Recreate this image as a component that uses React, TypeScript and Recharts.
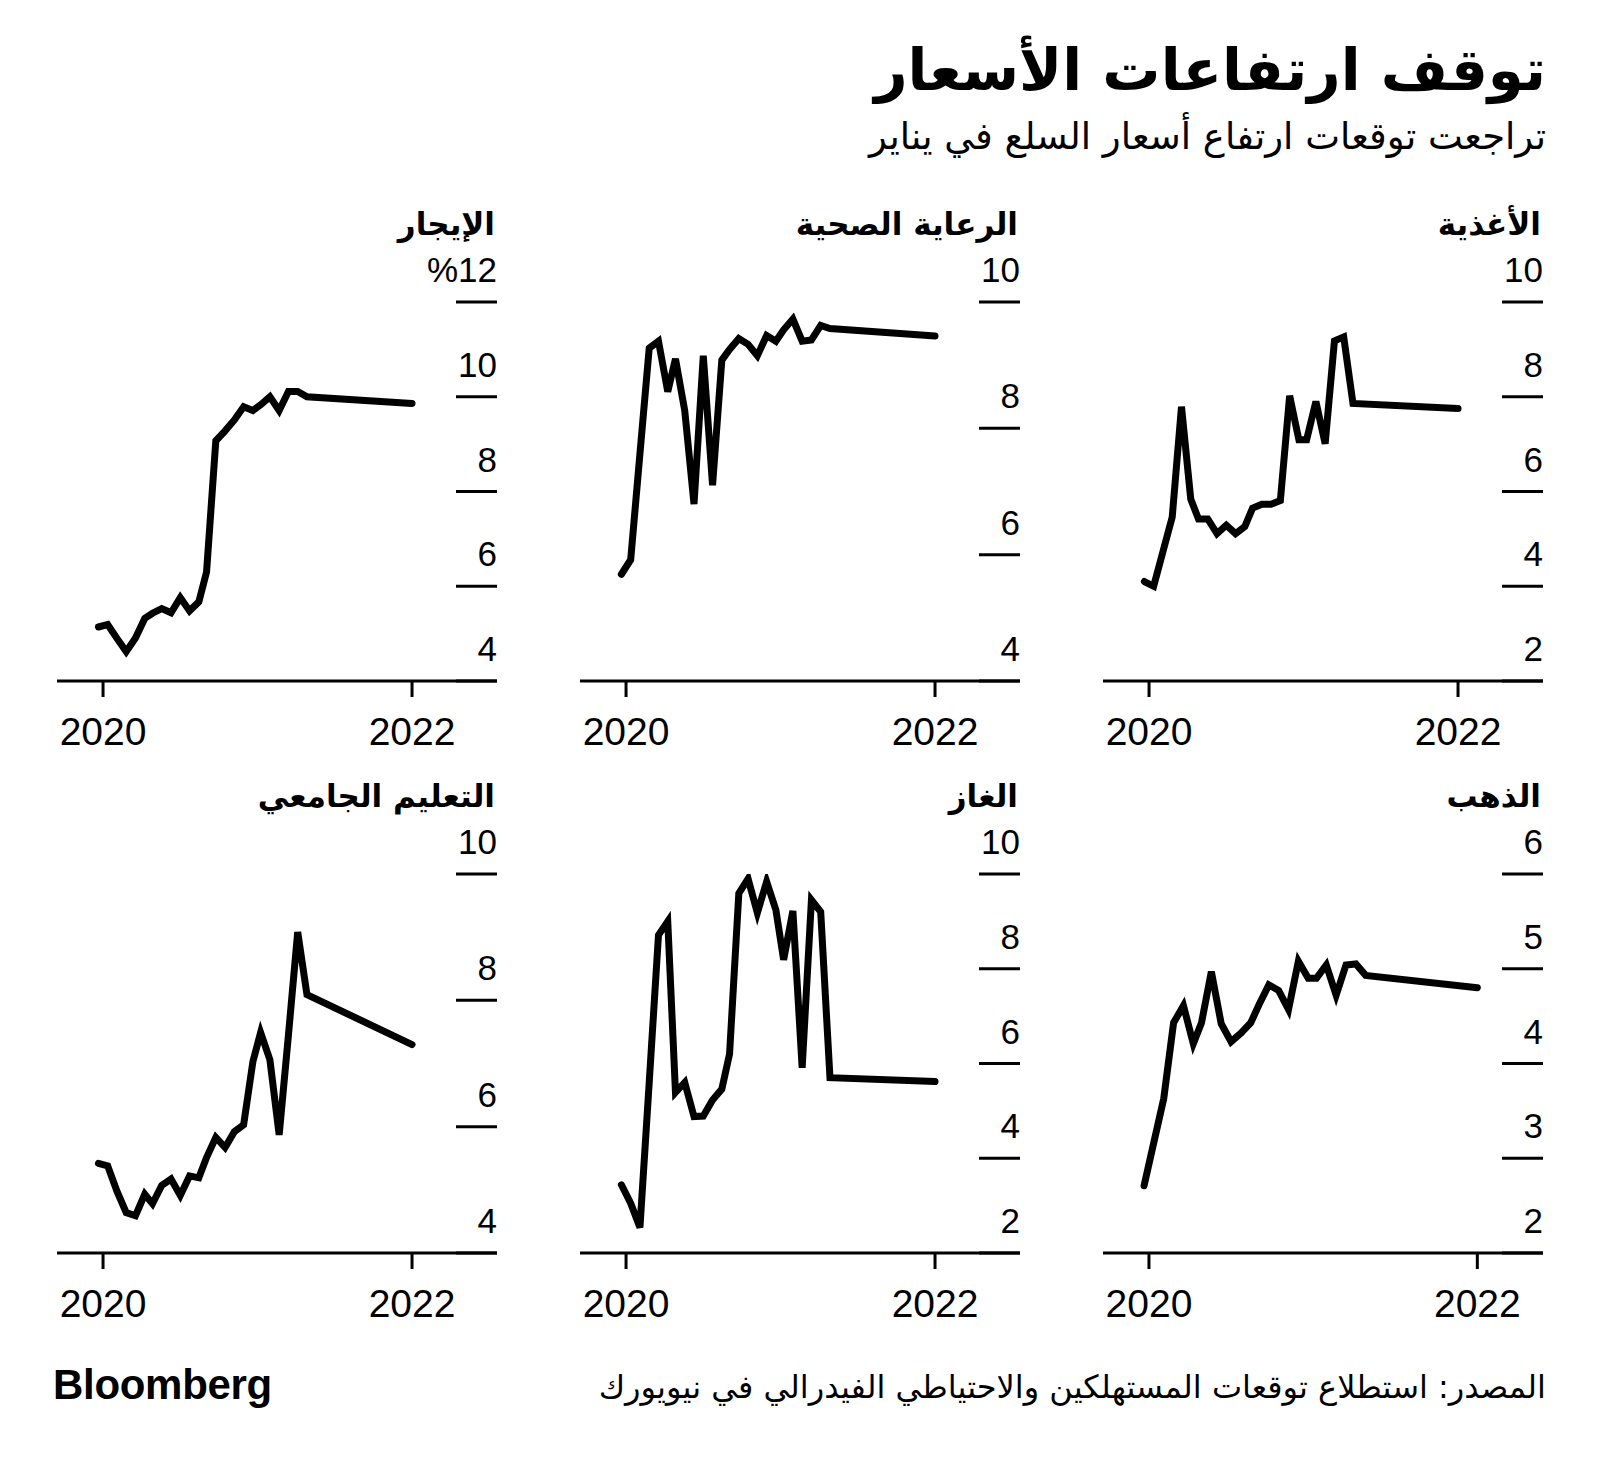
import React from "react";
import { LineChart, Line, XAxis, YAxis } from "recharts";

// dates of the survey points, in fractional years
const dates = [
  2019.97, 2020.03, 2020.09, 2020.15, 2020.21, 2020.27, 2020.32, 2020.38,
  2020.44, 2020.5, 2020.56, 2020.62, 2020.67, 2020.73, 2020.79, 2020.85,
  2020.91, 2020.97, 2021.02, 2021.08, 2021.14, 2021.2, 2021.26, 2021.32, 2022.0,
];

const food = [
  4.1, 4.0, 4.73, 5.46, 7.79, 5.84, 5.42, 5.42, 5.11, 5.29, 5.11, 5.26, 5.65,
  5.73, 5.73, 5.81, 8.02, 7.09, 7.09, 7.9, 7.01, 9.18, 9.26, 7.86, 7.75,
];
const health = [
  5.69, 5.92, 7.6, 9.27, 9.38, 8.58, 9.1, 8.28, 6.8, 9.15, 7.1, 9.08, 9.25,
  9.42, 9.33, 9.15, 9.47, 9.38, 9.56, 9.73, 9.38, 9.4, 9.63, 9.58, 9.46,
];
const rent = [
  5.14, 5.19, 4.9, 4.62, 4.91, 5.32, 5.43, 5.53, 5.44, 5.76, 5.48, 5.67, 6.3,
  9.07, 9.28, 9.51, 9.79, 9.71, 9.83, 10.0, 9.71, 10.11, 10.11, 10.0, 9.86,
];
const gold = [
  2.71, 3.17, 3.63, 4.43, 4.61, 4.21, 4.43, 4.97, 4.42, 4.23, 4.32, 4.43, 4.62,
  4.83, 4.77, 4.57, 5.08, 4.9, 4.9, 5.04, 4.72, 5.04, 5.05, 4.93, 4.8,
];
const gas = [
  3.44, 3.05, 2.54, 5.6, 8.71, 9.0, 5.39, 5.6, 4.88, 4.89, 5.23, 5.46, 6.2,
  9.59, 9.9, 9.18, 9.84, 9.24, 8.19, 9.22, 5.91, 9.45, 9.2, 5.7, 5.62,
];
const college = [
  5.42, 5.38, 4.98, 4.64, 4.59, 4.93, 4.78, 5.07, 5.17, 4.91, 5.22, 5.19, 5.51,
  5.83, 5.67, 5.92, 6.03, 7.03, 7.49, 7.06, 5.87, 7.45, 9.08, 8.09, 7.3,
];

const yearTicks = [2020, 2022];
const foodTicks = [2, 4, 6, 8, 10];
const healthTicks = [4, 6, 8, 10];
const rentTicks = [4, 6, 8, 10, 12];
const goldTicks = [2, 3, 4, 5, 6];
const gasTicks = [2, 4, 6, 8, 10];
const collegeTicks = [4, 6, 8, 10];

const AR = '"DejaVu Sans", sans-serif';
const NUM = '"Liberation Sans", Arial, sans-serif';

const PW = 440; // plot width
const PH = 379; // plot height
const MT = 70;
const ML = 10;
const MR = 9;
const YW = 1;
const XH = 90;

function Panel({ values, ticks, left, top, xDomain, pct }: any) {
  const data = values.map((v: number, i: number) => ({ t: dates[i], v }));
  const width = PW + ML + MR + YW;
  const height = MT + PH + XH;
  const right = ML + PW;
  const topTick = ticks[ticks.length - 1];
  const renderTick = (p: any) => {
    const val = p.payload.value;
    const label = pct && val === topTick ? "%" + val : String(val);
    return (
      <g>
        <line x1={right - 41} x2={right} y1={p.y} y2={p.y} stroke="#000" strokeWidth={3} />
        <text x={right} y={p.y - 20} textAnchor="end" fontSize={35} fontFamily={NUM} fill="#000">
          {label}
        </text>
      </g>
    );
  };
  return (
    <div style={{ position: "absolute", left: left - ML, top: top - MT }}>
      <LineChart width={width} height={height} data={data} margin={{ top: MT, right: MR, left: ML, bottom: 0 }} style={{ overflow: "visible" }}>
        <XAxis
          type="number"
          dataKey="t"
          domain={xDomain}
          ticks={yearTicks}
          interval={0}
          height={XH}
          tickSize={16}
          tickMargin={20}
          axisLine={{ stroke: "#000", strokeWidth: 3 }}
          tickLine={{ stroke: "#000", strokeWidth: 3 }}
          tick={{ fill: "#000", fontSize: 39, fontFamily: NUM }}
          allowDataOverflow
        />
        <YAxis
          orientation="right"
          width={YW}
          domain={[ticks[0], topTick]}
          ticks={ticks}
          interval={0}
          axisLine={false}
          tickLine={false}
          tick={renderTick}
          allowDataOverflow
        />
        <Line
          type="linear"
          dataKey="v"
          stroke="#000"
          strokeWidth={7}
          strokeLinecap="round"
          strokeLinejoin="miter"
          dot={false}
          activeDot={false}
          isAnimationActive={false}
        />
      </LineChart>
    </div>
  );
}

const stdX = [2019.702, 2022.55];
const goldX = [2019.72, 2022.4];

export default function App() {
  const cols = [1103, 580, 57];
  const rows = [302, 874];
  const panels = [
    { title: "الأغذية", values: food, ticks: foodTicks, c: 0, r: 0, xd: stdX },
    { title: "الرعاية الصحية", values: health, ticks: healthTicks, c: 1, r: 0, xd: stdX },
    { title: "الإيجار", values: rent, ticks: rentTicks, c: 2, r: 0, xd: stdX, pct: true },
    { title: "الذهب", values: gold, ticks: goldTicks, c: 0, r: 1, xd: goldX },
    { title: "الغاز", values: gas, ticks: gasTicks, c: 1, r: 1, xd: stdX },
    { title: "التعليم الجامعي", values: college, ticks: collegeTicks, c: 2, r: 1, xd: stdX },
  ];
  return (
    <div style={{ position: "absolute", left: 0, top: 0, width: 1600, height: 1465, background: "#fff", overflow: "hidden" }}>
      {panels.map((p, i) => (
        <Panel key={i} values={p.values} ticks={p.ticks} left={cols[p.c]} top={rows[p.r]} xDomain={p.xd} pct={p.pct} />
      ))}
      <svg width={1600} height={1465} style={{ position: "absolute", left: 0, top: 0, pointerEvents: "none" }}>
        <text x={1546} y={90} textAnchor="end" fontFamily={AR} fontWeight="bold" fontSize={58} fill="#000">
          توقف ارتفاعات الأسعار
        </text>
        <text x={1546} y={149} textAnchor="end" fontFamily={AR} fontSize={37} fill="#000">
          تراجعت توقعات ارتفاع أسعار السلع في يناير
        </text>
        {panels.map((p, i) => (
          <text key={i} x={cols[p.c] + PW - 2} y={rows[p.r] - 67} textAnchor="end" fontFamily={AR} fontWeight="bold" fontSize={31} fill="#000">
            {p.title}
          </text>
        ))}
        <text x={1546} y={1398} textAnchor="end" fontFamily={AR} fontSize={32} fill="#000">
          المصدر: استطلاع توقعات المستهلكين والاحتياطي الفيدرالي في نيويورك
        </text>
        <text x={53} y={1399} fontFamily={NUM} fontWeight="bold" fontSize={42} letterSpacing={-0.3} fill="#000">
          Bloomberg
        </text>
      </svg>
    </div>
  );
}
